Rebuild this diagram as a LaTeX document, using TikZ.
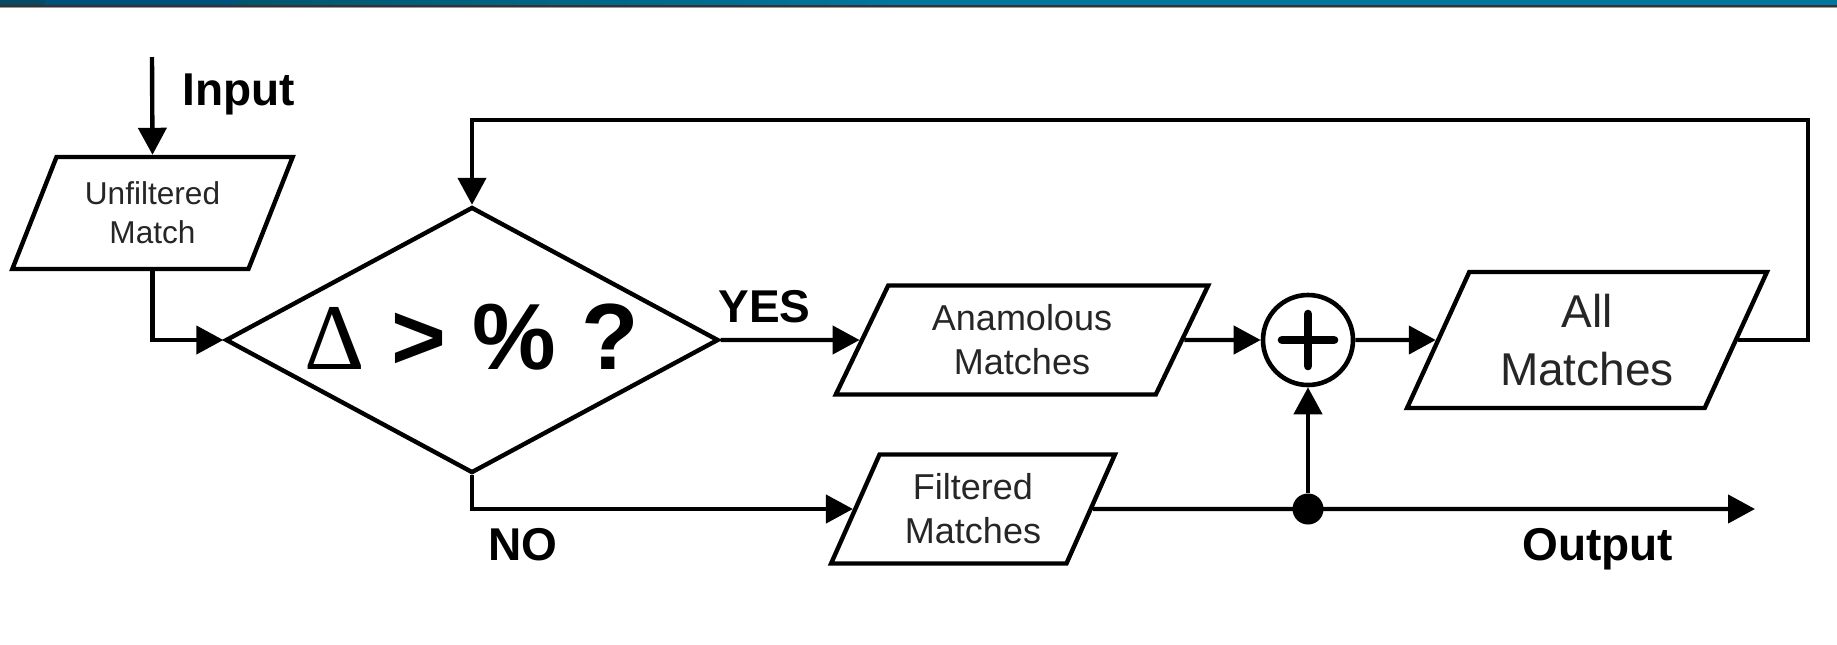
\documentclass[tikz,border=0pt]{standalone}
\usepackage{fontspec}
\setmainfont{Liberation Sans}
\newfontfamily\serifgreek{Liberation Serif}
\usetikzlibrary{shapes.geometric,arrows.meta}

\definecolor{barA}{HTML}{064A66}
\definecolor{barB}{HTML}{00527E}
\definecolor{barC}{HTML}{00566E}
\definecolor{barD}{HTML}{0076A0}
\definecolor{inktext}{HTML}{262626}

\begin{document}
\begin{tikzpicture}[x=0.5pt,y=-0.5pt,
  wire/.style={line width=2.2pt,-{Triangle[length=13.5pt,width=14pt]}},
  io/.style={trapezium, trapezium left angle=63.4, trapezium right angle=116.6,
    trapezium stretches=true, draw, line width=2.2pt, fill=white,
    align=center, inner sep=0pt, text=inktext},
  lbl/.style={inner sep=0pt, font=\bfseries\fontsize{23}{27}\selectfont},
  dot/.style={circle, fill=black, inner sep=0pt, minimum size=15.5pt}]

% page and title strip
\fill[white] (0,0) rectangle (1837,644);
\useasboundingbox (0,0) rectangle (1837,644);
\fill[barA] (0,0) rectangle (45,5);
\fill[barB] (45,0) rectangle (237,5);
\shade[left color=barC, right color=barD] (237,0) rectangle (900,5);
\fill[barD] (900,0) rectangle (1837,5);
\fill[black!80] (0,5) rectangle (1837,6.5);
\fill[black!40] (0,6.5) rectangle (1837,7.5);

% blocks
\node[io, minimum width=140.5pt, minimum height=56pt,
  font=\fontsize{15.8}{19.5}\selectfont] (uf) at (152.5,213) {Unfiltered\\Match};
\node[diamond, draw, line width=2.2pt, inner sep=0pt,
  minimum width=246.5pt, minimum height=133pt] (dec) at (472,340) {};
\node[anchor=base, inner sep=0pt, font=\bfseries\fontsize{47}{50}\selectfont] (q)
  at (472,369) {{\serifgreek\mdseries Δ} > \% ?};
\node[io, minimum width=186.5pt, minimum height=54.5pt,
  font=\fontsize{18}{22}\selectfont] (am) at (1022,340) {Anamolous\\Matches};
\node[io, minimum width=142pt, minimum height=54.5pt,
  font=\fontsize{18}{22}\selectfont] (fm) at (973,509) {Filtered\\Matches};
\node[circle, draw, line width=2.3pt, inner sep=0pt, minimum size=45pt] (plus) at (1308,340) {};
\draw[line width=4.3pt, line cap=round] ([xshift=-13pt]plus.center) -- ([xshift=13pt]plus.center);
\draw[line width=4.3pt, line cap=round] ([yshift=-13pt]plus.center) -- ([yshift=13pt]plus.center);
\node[io, minimum width=180pt, minimum height=68pt,
  font=\fontsize{23}{29}\selectfont] (all) at (1587,340) {All\\Matches};
\node[dot] (jn) at (1308,509) {};

% labels
\node[lbl, anchor=base west] (inlbl) at (182,105) {Input};
\node[lbl, anchor=base west] (yes) at (718,322) {YES};
\node[lbl, anchor=base west] (no) at (488,560) {NO};
\node[lbl, anchor=base west] (outlbl) at (1522,560) {Output};

% connectors
\coordinate (src) at (152,57);
\coordinate (loopR) at (1808,120);
\coordinate (outend) at (1755,509);
\draw[wire] (src) -- (uf.center |- uf.north);
\draw[wire] (uf.center |- uf.south) |- (dec.west);
\draw[wire] (dec.east) -- (am.west);
\draw[wire] (dec.south) |- (fm.west);
\draw[wire] (am.east) -- (plus.west);
\draw[wire] (plus.east) -- (all.west);
\draw[wire] (all.east) -| (loopR) -| (dec.north);
\draw[wire] (fm.east) -- (outend);
\draw[wire] (jn) -- (plus.south);
\end{tikzpicture}
\end{document}
